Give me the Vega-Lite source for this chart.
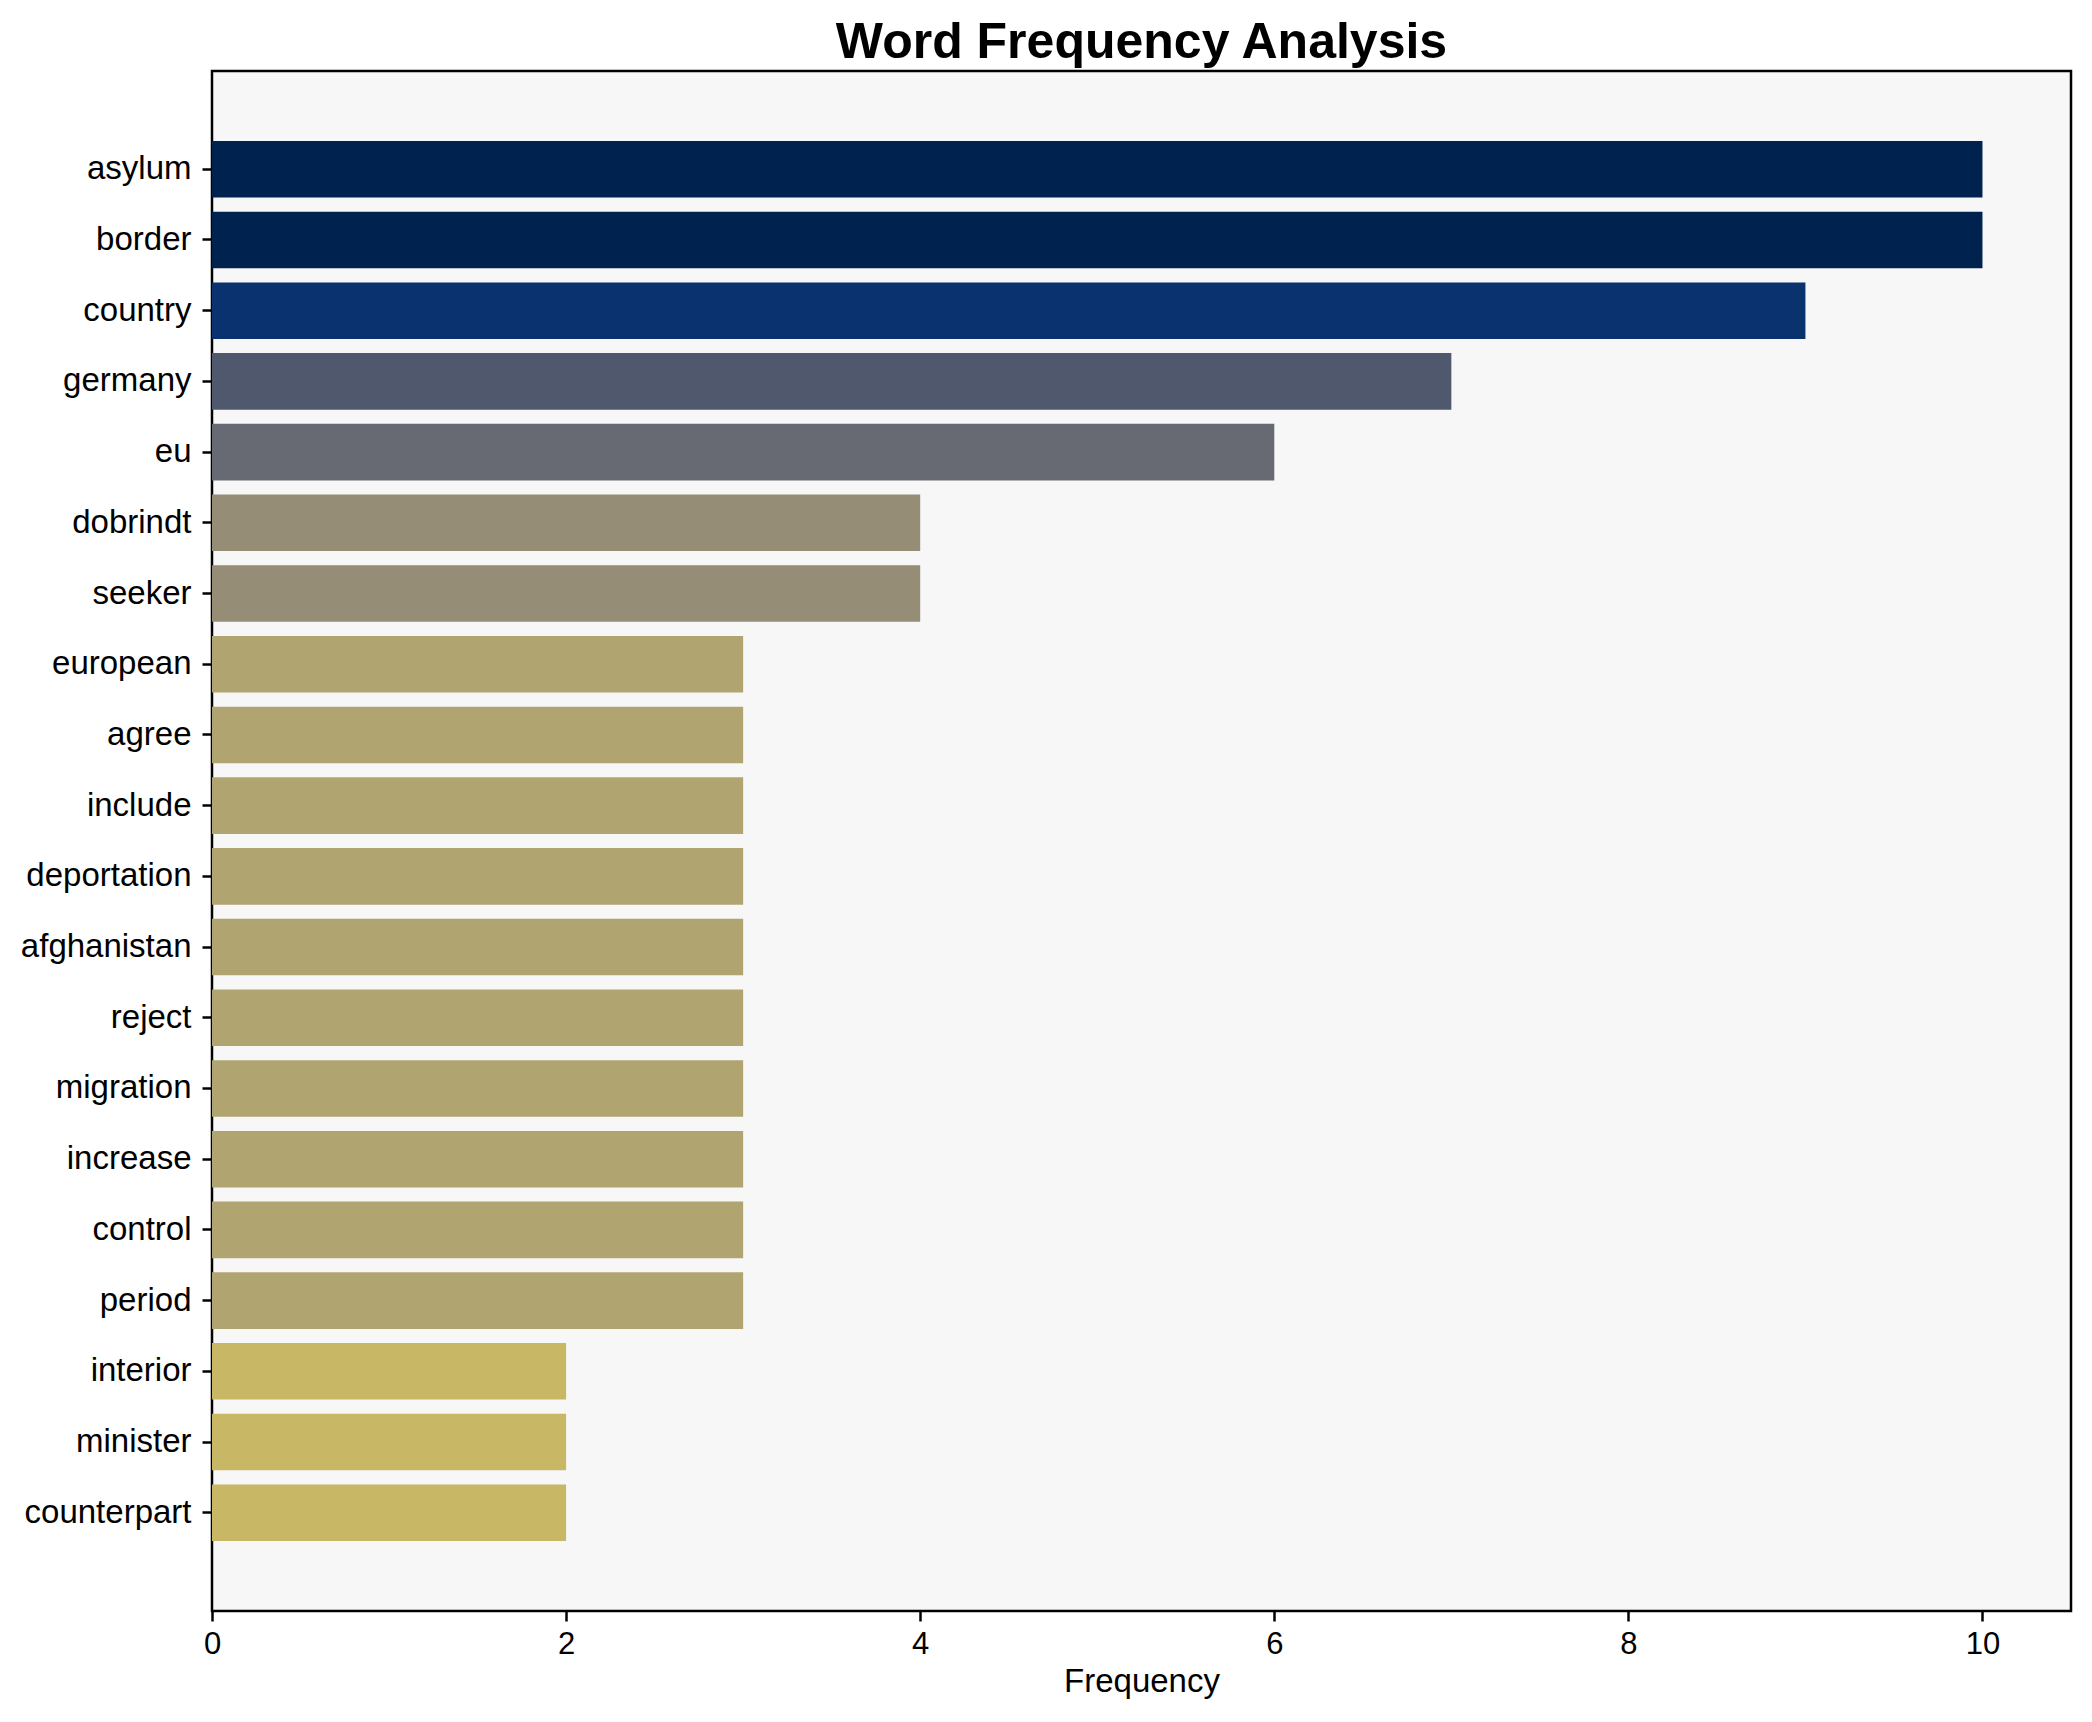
{
  "$schema": "https://vega.github.io/schema/vega-lite/v6.json",
  "autosize": "none",
  "padding": {"left": 212, "top": 71, "right": 21, "bottom": 111},
  "width": 1859,
  "height": 1540,
  "background": "white",
  "title": {
    "text": "Word Frequency Analysis",
    "font": "Liberation Sans",
    "fontSize": 50,
    "fontWeight": "bold",
    "color": "black",
    "anchor": "middle",
    "frame": "group",
    "baseline": "bottom",
    "offset": 4,
    "dy": 51
  },
  "data": {
    "values": [
      {"word": "asylum", "Frequency": 10},
      {"word": "border", "Frequency": 10},
      {"word": "country", "Frequency": 9},
      {"word": "germany", "Frequency": 7},
      {"word": "eu", "Frequency": 6},
      {"word": "dobrindt", "Frequency": 4},
      {"word": "seeker", "Frequency": 4},
      {"word": "european", "Frequency": 3},
      {"word": "agree", "Frequency": 3},
      {"word": "include", "Frequency": 3},
      {"word": "deportation", "Frequency": 3},
      {"word": "afghanistan", "Frequency": 3},
      {"word": "reject", "Frequency": 3},
      {"word": "migration", "Frequency": 3},
      {"word": "increase", "Frequency": 3},
      {"word": "control", "Frequency": 3},
      {"word": "period", "Frequency": 3},
      {"word": "interior", "Frequency": 2},
      {"word": "minister", "Frequency": 2},
      {"word": "counterpart", "Frequency": 2}
    ]
  },
  "mark": {"type": "bar"},
  "encoding": {
    "y": {
      "field": "word",
      "type": "nominal",
      "sort": null,
      "scale": {"paddingInner": 0.2, "paddingOuter": 0.99},
      "axis": {
        "title": null,
        "domain": false,
        "ticks": true,
        "tickSize": 10,
        "tickWidth": 2.5,
        "tickColor": "black",
        "labelFont": "Liberation Sans",
        "labelFontSize": 33,
        "labelColor": "black",
        "labelPadding": 11,
        "grid": false
      }
    },
    "x": {
      "field": "Frequency",
      "type": "quantitative",
      "scale": {"domain": [0, 10.5], "nice": false, "zero": true},
      "axis": {
        "title": "Frequency",
        "titleFont": "Liberation Sans",
        "titleFontSize": 33,
        "titleFontWeight": "normal",
        "titleColor": "black",
        "titlePadding": 6,
        "values": [0, 2, 4, 6, 8, 10],
        "format": "d",
        "domain": false,
        "tickSize": 10,
        "tickWidth": 2.5,
        "tickColor": "black",
        "labelFont": "Liberation Sans",
        "labelFontSize": 31,
        "labelColor": "black",
        "labelPadding": 8,
        "labelFlush": false,
        "grid": false
      }
    },
    "color": {
      "field": "Frequency",
      "type": "ordinal",
      "scale": {
        "domain": [10, 9, 7, 6, 4, 3, 2],
        "range": ["#00224e", "#0a326f", "#4f586c", "#676a72", "#958d75", "#b0a571", "#c8b866"]
      },
      "legend": null
    }
  },
  "config": {
    "view": {"stroke": "black", "strokeWidth": 2.5, "fill": "#f7f7f7"}
  }
}
